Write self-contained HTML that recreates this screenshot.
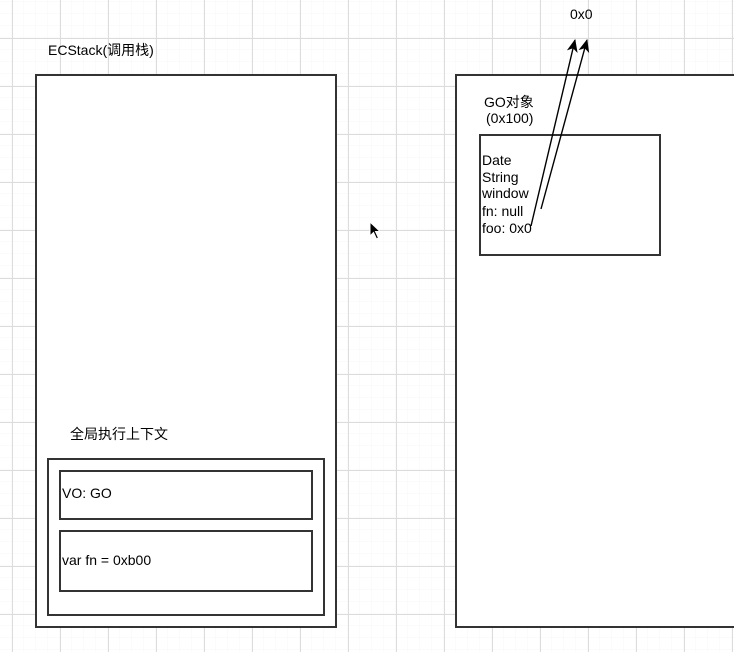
<!DOCTYPE html>
<html><head><meta charset="utf-8"><style>
html,body{margin:0;padding:0;background:#fff;}
svg{display:block;}
text{font-family:"Liberation Sans","Noto Sans CJK SC",sans-serif;font-size:14px;fill:#000;}
</style></head><body>
<svg width="734" height="652" viewBox="0 0 734 652" xmlns="http://www.w3.org/2000/svg">
<defs>
<pattern id="minor" x="0" y="2" width="12" height="12" patternUnits="userSpaceOnUse">
<path d="M12 0V12M0 12H12" stroke="#f7f7f7" stroke-width="1" fill="none"/>
</pattern>
<pattern id="major" x="12" y="38" width="48" height="48" patternUnits="userSpaceOnUse">
<path d="M0.5 0V48M0 0.5H48" stroke="#dcdcdc" stroke-width="1" fill="none"/>
</pattern>
<marker id="ah" markerWidth="14" markerHeight="12" refX="12" refY="6" orient="auto" markerUnits="userSpaceOnUse">
<path d="M0 0.5L13 6L0 11.5L3.5 6Z" fill="#000"/>
</marker>
</defs>
<rect width="734" height="652" fill="url(#minor)"/>
<rect width="734" height="652" fill="url(#major)"/>

<text x="48" y="55">ECStack(调用栈)</text>
<rect x="36" y="75" width="300" height="552" fill="#fff" stroke="#333" stroke-width="2"/>
<text x="70" y="439">全局执行上下文</text>
<rect x="48" y="459" width="276" height="156" fill="#fff" stroke="#333" stroke-width="2"/>
<rect x="60" y="471" width="252" height="48" fill="#fff" stroke="#333" stroke-width="2"/>
<text x="62" y="498">VO: GO</text>
<rect x="60" y="531" width="252" height="60" fill="#fff" stroke="#333" stroke-width="2"/>
<text x="62" y="565">var fn = 0xb00</text>

<rect x="456" y="75" width="290" height="552" fill="#fff" stroke="#333" stroke-width="2"/>
<text x="484" y="107">GO对象</text>
<text x="486" y="123">(0x100)</text>
<rect x="480" y="135" width="180" height="120" fill="#fff" stroke="#333" stroke-width="2"/>
<text x="482" y="165">Date</text>
<text x="482" y="182">String</text>
<text x="482" y="198">window</text>
<text x="482" y="216">fn: null</text>
<text x="482" y="233">foo: 0x0</text>

<text x="570" y="19">0x0</text>
<line x1="531" y1="226" x2="575" y2="40" stroke="#000" stroke-width="1.4" marker-end="url(#ah)"/>
<line x1="541" y1="209" x2="587" y2="40" stroke="#000" stroke-width="1.4" marker-end="url(#ah)"/>

<path d="M370 222 L370 236 L373.5 232.5 L376.5 239 L378.5 238 L375.5 231.5 L380 231.5 Z" fill="#000" stroke="#fff" stroke-width="1"/>
</svg>
</body></html>
